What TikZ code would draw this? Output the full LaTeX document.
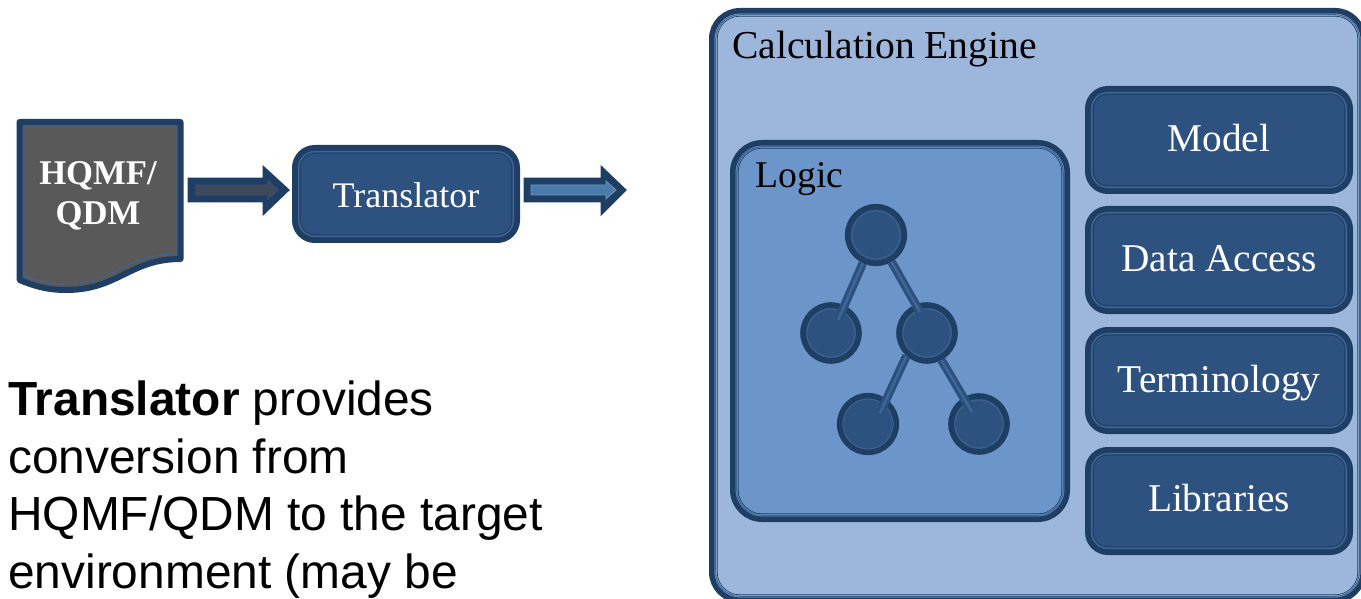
\documentclass[tikz,border=0pt]{standalone}
\usepackage{fontspec}
\setmainfont{Liberation Serif}
\newfontfamily\arialf{Liberation Sans}
\definecolor{bandc}{HTML}{1F3E63}
\definecolor{linec}{HTML}{3D6696}
\definecolor{navyc}{HTML}{2E5280}
\definecolor{paleb}{HTML}{9DB6DB}
\definecolor{midb}{HTML}{6C96C9}
\definecolor{greyc}{HTML}{595959}
\definecolor{arrowa}{HTML}{3E4A5B}
\definecolor{arrowb}{HTML}{4A7BAB}
\tikzset{
  x=0.75pt,y=-0.75pt,
  rbox/.style={rectangle,rounded corners=#1,draw=bandc,line width=4.2pt,inner sep=0pt,anchor=north west},
  rbox/.default=15pt,
  innerl/.style={draw=linec,line width=0.8pt},
  innerd/.style={draw=bandc,line width=0.5pt},
  circ/.style={circle,draw=bandc,fill=navyc,line width=4.2pt,inner sep=0pt,minimum size=#1},
  lab/.style={font=\fontsize{#1}{30pt}\selectfont,text=white,anchor=base,inner sep=0pt},
  lab/.default=29.5pt,
  blk/.style={font=\fontsize{#1}{30pt}\selectfont,text=black,anchor=base west,inner sep=0pt},
  fat/.style={draw=bandc,line width=1.9pt,line join=miter},
  conn/.style={draw=navyc!85!bandc,line width=6.4pt,line cap=butt},
  connc/.style={draw=linec,line width=2pt,line cap=butt},
  para/.style={font=\arialf\fontsize{35.9pt}{43pt}\selectfont,text=black,anchor=base west,inner sep=0pt},
}
\newcommand{\rrbox}[7]{% name, x, y, w, h, radius(pt), fill
  \node[rbox=#6,fill=#7,minimum width=#4*0.75pt-4.2pt,minimum height=#5*0.75pt-4.2pt] (#1) at (#2,#3) {};
  \draw[innerl,rounded corners=#6-3pt] ([shift={(6.7,6.7)}]#1.north west) rectangle ([shift={(-6.7,-6.7)}]#1.south east);
  \draw[innerd,rounded corners=#6-4pt] ([shift={(8.2,8.2)}]#1.north west) rectangle ([shift={(-8.2,-8.2)}]#1.south east);
}
\newcommand{\treeline}[5]{% from-node, angle, to-node, shiftx, shifty
  \draw[conn] (#1.#2) -- ([shift={(#4,#5)}]#3.center);
  \draw[connc] (#1.#2) -- ([shift={(#4,#5)}]#3.center);
}
\begin{document}
\begin{tikzpicture}
\useasboundingbox (0,0) rectangle (1361,599);
\begin{scope}
\clip (0,0) rectangle (1361,599);
% Calculation engine
\rrbox{engine}{709}{8}{657}{595}{21pt}{paleb}
\node[blk=29.7pt] (enginet) at (732,59) {Calculation Engine};
% Logic
\rrbox{logic}{730}{140}{340}{382}{22pt}{midb}
\node[blk=28.3pt] (logict) at (755,188) {Logic};
% right column
\rrbox{model}{1085}{86}{268}{108}{15pt}{navyc}
\node[lab] (modelt) at ([shift={(0,12)}]model.center) {Model};
\rrbox{data}{1085}{206}{268}{108}{15pt}{navyc}
\node[lab] (datat) at ([shift={(0,12)}]data.center) {Data Access};
\rrbox{term}{1085}{327}{268}{107}{15pt}{navyc}
\node[lab] (termt) at ([shift={(0,11.5)}]term.center) {Terminology};
\rrbox{libs}{1085}{447}{268}{108}{15pt}{navyc}
\node[lab] (libst) at ([shift={(0,10)}]libs.center) {Libraries};
% tree
\node[circ=42.5pt] (root) at (876,235) {};
\node[circ=42pt] (nl) at (831,333) {};
\node[circ=42pt] (nm) at (927,333) {};
\node[circ=42.5pt] (nll) at (868,424) {};
\node[circ=42pt] (nlr) at (979,424) {};
\foreach \n/\r in {root/24,nl/24,nm/24,nll/25,nlr/24}{
  \draw[draw=linec,line width=0.6pt] (\n) circle[radius=\r];
}
\treeline{root}{245}{nl}{7}{-13}
\treeline{root}{300}{nm}{-7}{-21}
\treeline{nm}{228}{nll}{12}{-11}
\treeline{nm}{298}{nlr}{-7}{-12}
% Document
\path[draw=bandc,fill=greyc,line width=4.5pt,line join=round]
  (19.5,122) -- (180.5,122) -- (180.5,259)
  .. controls (130,259) and (118,290) .. (66,290)
  .. controls (45,290) and (32,285) .. (19.5,280) -- cycle;
\path[draw=linec,line width=0.7pt]
  (24,127) -- (176,127) -- (176,254)
  .. controls (126,254) and (112,284) .. (66,284)
  .. controls (48,284) and (36,280) .. (24,276) -- cycle;
\node[font=\bfseries\fontsize{26pt}{30pt}\selectfont,text=white,align=center] (doc) at (98,195.5) {HQMF/\\QDM};
% Translator
\rrbox{trans}{292}{145}{228}{98}{15pt}{navyc}
\node[lab=27pt] (transt) at ([shift={(0,14)}]trans.center) {Translator};
% arrows
\path[fat,fill=bandc] (189,179) -- (264,179) -- (264,168) -- (288,190) -- (264,213) -- (264,201) -- (189,201) -- cycle;
\path[draw=arrowa!70!linec,fill=arrowa,line width=0.6pt] (196,185) -- (268,185) -- (268,181) -- (278,190) -- (268,199) -- (268,195) -- (196,195) -- cycle;
\path[fat,fill=bandc] (525,179) -- (602,179) -- (602,168) -- (625,190) -- (602,213) -- (602,201) -- (525,201) -- cycle;
\path[draw=arrowb!80!white,fill=arrowb,line width=0.6pt] (531,185) -- (606,185) -- (606,181) -- (616,190) -- (606,199) -- (606,195) -- (531,195) -- cycle;
% paragraph
\node[para] (p1) at (8,415) {\textbf{Translator} provides};
\node[para] (p2) at (8,473) {conversion from};
\node[para] (p3) at (8,530) {HQMF/QDM to the target};
\node[para] (p4) at (8,588) {environment (may be};
\end{scope}
\end{tikzpicture}
\end{document}
